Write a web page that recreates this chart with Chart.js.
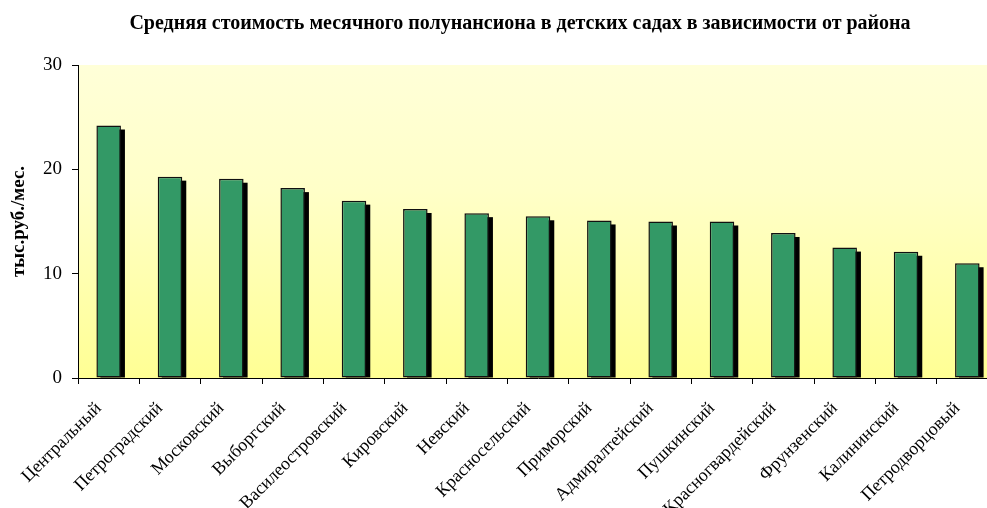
<!DOCTYPE html>
<html><head><meta charset="utf-8">
<script src="https://cdn.jsdelivr.net/npm/chart.js@4"></script>
<style>
html,body{margin:0;padding:0;overflow:hidden;background:#fff;}
#wrap{width:1040px;height:508px;position:relative;}
</style></head>
<body>
<div id="wrap"><canvas id="c" width="1040" height="508"></canvas></div>
<script>
const categories = ["Центральный","Петроградский","Московский","Выборгский","Василеостровский","Кировский","Невский","Красносельский","Приморский","Адмиралтейский","Пушкинский","Красногвардейский","Фрунзенский","Калининский","Петродворцовый"];
const values = [24.2, 19.3, 19.1, 18.2, 17.0, 16.2, 15.8, 15.5, 15.1, 15.0, 15.0, 13.9, 12.5, 12.1, 11.0];
const yTicks = [0, 10, 20, 30];
const titleText = "Средняя стоимость месячного полунансиона в детских садах в зависимости от района";
const yTitle = "тыс.руб./мес.";

const SERIF = '"Liberation Serif", "Times New Roman", serif';

const bgPlugin = {
  id: 'bg',
  beforeDraw(chart) {
    const {ctx, chartArea: a} = chart;
    const g = ctx.createLinearGradient(0, a.top, 0, a.bottom);
    g.addColorStop(0, '#ffffd8');
    g.addColorStop(0.4, '#ffffc8');
    g.addColorStop(1, '#ffff94');
    ctx.save();
    ctx.fillStyle = g;
    ctx.fillRect(a.left, a.top, a.right - a.left, a.bottom - a.top);
    ctx.restore();
  }
};
const shadowPlugin = {
  id: 'shadow',
  beforeDatasetsDraw(chart) {
    const {ctx, chartArea: a} = chart;
    ctx.save();
    ctx.beginPath();
    ctx.rect(a.left, a.top, a.right - a.left, a.bottom - a.top);
    ctx.clip();
    ctx.fillStyle = '#000';
    chart.getDatasetMeta(0).data.forEach(el => {
      const p = el.getProps(['x','y','base','width'], true);
      ctx.fillRect(p.x - p.width/2 + 4, p.y + 4, p.width, p.base - p.y - 4);
    });
    ctx.restore();
  }
};
const titleShift = {
  id: 'titleShift',
  afterLayout(chart) {
    const t = chart.titleBlock;
    if (t) { t.left = 42; t.right = chart.chartArea.right; t.width = t.right - t.left; }
  }
};

new Chart(document.getElementById('c'), {
  type: 'bar',
  data: {
    labels: categories,
    datasets: [{
      data: values,
      backgroundColor: '#339966',
      borderColor: '#111111',
      borderWidth: 1.5,
      borderSkipped: false,
      categoryPercentage: 1,
      barPercentage: 0.4
    }]
  },
  options: {
    responsive: false,
    animation: false,
    devicePixelRatio: 1,
    layout: {padding: {left: 0, right: 42, top: 0, bottom: 0}},
    plugins: {
      legend: {display: false},
      tooltip: {enabled: false},
      title: {
        display: true,
        text: titleText,
        color: '#000',
        font: {family: SERIF, size: 20, weight: 'bold'},
        padding: {top: 12, bottom: 29}
      }
    },
    scales: {
      x: {
        grid: {display: true, drawOnChartArea: false, offset: true, tickLength: 6, color: '#000'},
        border: {display: true, color: '#000', width: 1},
        ticks: {
          color: '#000',
          maxRotation: 45, minRotation: 45,
          autoSkip: false,
          padding: 14,
          labelOffset: -10,
          font: {family: SERIF, size: 18}
        },
        afterFit(s) { s.height = 130; }
      },
      y: {
        min: 0, max: 30,
        afterBuildTicks(s) { s.ticks = yTicks.map(v => ({value: v})); },
        grid: {display: true, drawOnChartArea: false, tickLength: 6, color: '#000'},
        border: {display: true, color: '#000', width: 1},
        ticks: {
          color: '#000',
          padding: 10,
          font: {family: SERIF, size: 19}
        },
        title: {
          display: true,
          text: yTitle,
          color: '#000',
          padding: {top: 8, bottom: 0},
          font: {family: SERIF, size: 19, weight: 'bold'}
        },
        afterFit(s) { s.width = 78; }
      }
    }
  },
  plugins: [bgPlugin, shadowPlugin, titleShift]
});
</script>
</body></html>
